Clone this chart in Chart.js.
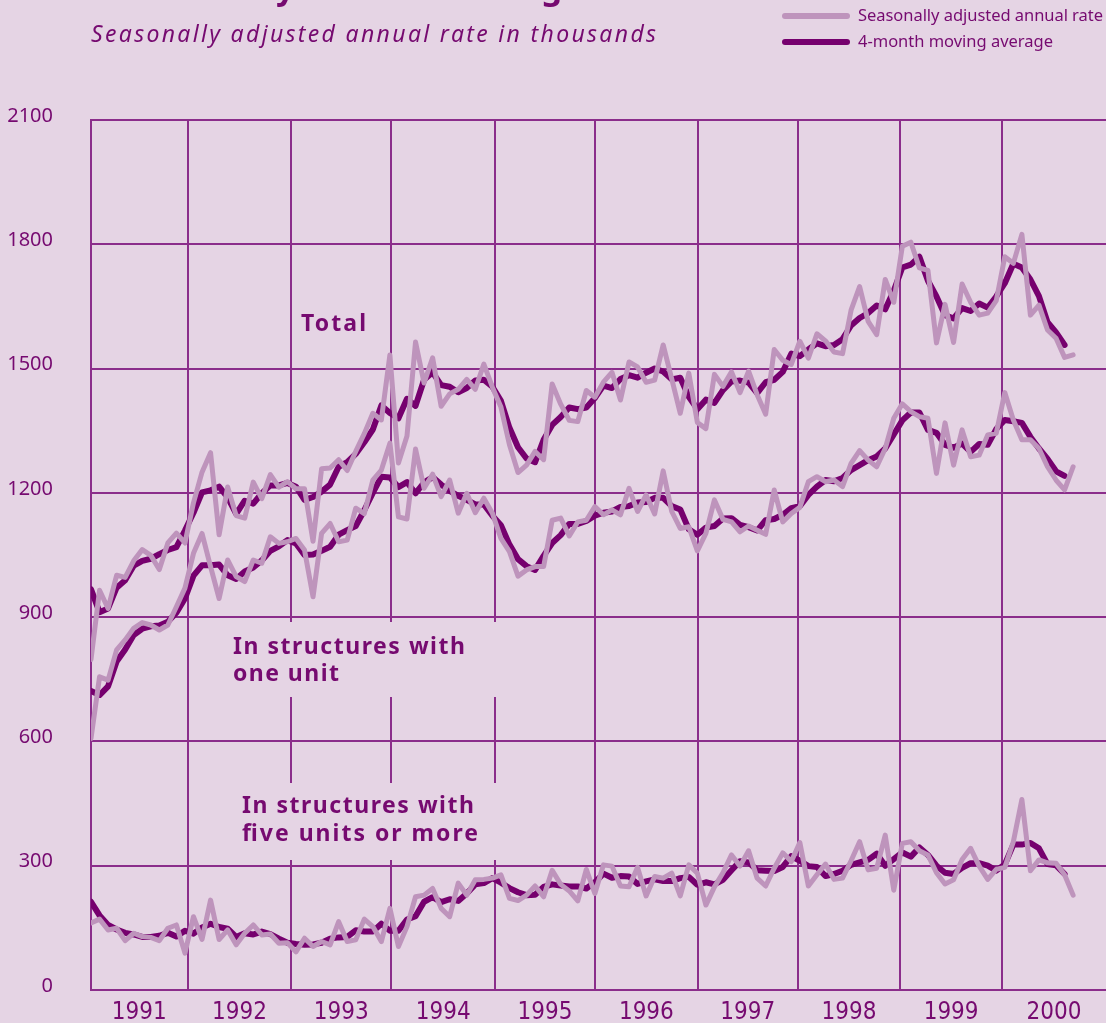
<!DOCTYPE html>
<html>
<head>
<meta charset="utf-8">
<script src="https://cdn.jsdelivr.net/npm/chart.js@4.4.1/dist/chart.umd.min.js"></script>
<style>
  html, body { margin: 0; padding: 0; background: #E5D4E4; }
  #wrap { position: relative; width: 1106px; height: 1023px; overflow: hidden; background: #E5D4E4; }
  #c { position: absolute; left: 0; top: 0; }
  #ov { position: absolute; left: 0; top: 0; pointer-events: none; overflow: hidden; }
</style>
</head>
<body>
<div id="wrap">
  <canvas id="c" width="1106" height="1023"></canvas>
  <svg id="ov" width="1106" height="1023" xmlns="http://www.w3.org/2000/svg">
    <!-- covers that interrupt the vertical grid lines behind the series labels -->
    <rect x="222" y="622" width="288" height="75" fill="#E5D4E4"/>
    <rect x="228" y="783" width="282" height="77" fill="#E5D4E4"/>

    <text x="144" y="-1" font-family="Noto Sans" font-weight="bold" font-size="33" fill="#760A70" textLength="527" lengthAdjust="spacing">Privately owned housing starts</text>
    <text x="91" y="41.5" font-family="Noto Sans" font-style="italic" font-size="23" fill="#760A70" textLength="565" lengthAdjust="spacing">Seasonally adjusted annual rate in thousands</text>

    <line x1="785" y1="16" x2="847" y2="16" stroke="#BE94BC" stroke-width="6" stroke-linecap="round"/>
    <line x1="785" y1="42" x2="847" y2="42" stroke="#76006E" stroke-width="6" stroke-linecap="round"/>
    <text x="858" y="21" font-family="Noto Sans" font-size="16.5" fill="#760A70" textLength="245" lengthAdjust="spacing">Seasonally adjusted annual rate</text>
    <text x="858" y="47" font-family="Noto Sans" font-size="16.5" fill="#760A70" textLength="195" lengthAdjust="spacing">4-month moving average</text>

    <text x="301" y="331" font-family="Noto Sans" font-weight="bold" font-size="23" fill="#760A70" textLength="65" lengthAdjust="spacing">Total</text>
    <text x="233" y="654" font-family="Noto Sans" font-weight="bold" font-size="23" fill="#760A70" textLength="232" lengthAdjust="spacing">In structures with</text>
    <text x="233" y="680.5" font-family="Noto Sans" font-weight="bold" font-size="23" fill="#760A70" textLength="106" lengthAdjust="spacing">one unit</text>
    <text x="242" y="812.5" font-family="Noto Sans" font-weight="bold" font-size="23" fill="#760A70" textLength="232" lengthAdjust="spacing">In structures with</text>
    <text x="242" y="840.5" font-family="Noto Sans" font-weight="bold" font-size="23" fill="#760A70" textLength="236" lengthAdjust="spacing">five units or more</text>
  </svg>
</div>
<script>
// ---------------- data (thousands of units, monthly from Jan 1991) ----------------
const yearLabels = ['1991','1992','1993','1994','1995','1996','1997','1998','1999','2000'];
// month positions (0 = Jan 1991) where the yearly grid lines sit in the picture
const yearGridMonths = [11.32, 23.45, 35.16, 47.31, 59.02, 71.04, 82.75, 94.76, 106.67];
const xAxisEndMonth = 118.85;
const yTicks = [0, 300, 600, 900, 1200, 1500, 1800, 2100];

const totalRate = [
  798,965,921,1001,996,1036,1063,1049,1015,1079,1103,1079,
  1176,1250,1297,1099,1214,1145,1139,1226,1186,1244,1214,1227,
  1210,1210,1083,1258,1260,1280,1254,1300,1343,1392,1376,1533,
  1272,1337,1564,1465,1526,1409,1439,1450,1474,1450,1511,1455,
  1407,1316,1249,1267,1300,1280,1463,1414,1375,1372,1447,1431,
  1467,1491,1424,1516,1504,1467,1472,1557,1475,1392,1489,1370,
  1355,1486,1457,1492,1442,1494,1437,1390,1546,1520,1510,1566,
  1525,1584,1567,1540,1536,1641,1698,1614,1582,1715,1660,1795,
  1805,1743,1737,1562,1655,1563,1704,1660,1629,1634,1664,1770,
  1754,1824,1629,1653,1593,1573,1527,1533
];
const totalAvg = [
  967,912,921,971,989,1024,1036,1041,1052,1062,1069,1109,
  1152,1201,1206,1215,1189,1149,1181,1174,1199,1218,1218,1224,
  1215,1183,1190,1203,1220,1263,1274,1294,1322,1353,1411,1393,
  1380,1427,1410,1473,1491,1460,1456,1443,1453,1471,1473,1456,
  1422,1357,1310,1283,1274,1328,1364,1383,1406,1402,1406,1429,
  1459,1453,1475,1484,1478,1490,1500,1493,1474,1478,1432,1402,
  1425,1417,1448,1469,1471,1466,1441,1467,1473,1492,1536,1530,
  1546,1561,1554,1557,1571,1604,1622,1634,1652,1643,1688,1744,
  1751,1770,1712,1674,1629,1621,1646,1639,1657,1647,1674,1706,
  1753,1744,1715,1675,1612,1587,1557
];
const oneUnitRate = [
  607,756,748,821,845,873,887,881,869,881,925,970,
  1054,1102,1022,945,1038,998,986,1038,1030,1094,1078,1082,
  1090,1062,949,1102,1126,1082,1086,1163,1150,1231,1255,1320,
  1142,1137,1306,1211,1245,1191,1231,1151,1199,1152,1187,1151,
  1090,1058,999,1014,1022,1022,1134,1139,1096,1130,1134,1167,
  1147,1159,1147,1211,1155,1195,1149,1253,1155,1114,1118,1060,
  1102,1183,1136,1130,1106,1120,1110,1100,1207,1130,1150,1165,
  1227,1239,1227,1231,1215,1271,1302,1279,1263,1307,1380,1415,
  1396,1384,1380,1247,1369,1267,1352,1287,1291,1340,1344,1442,
  1376,1328,1328,1307,1263,1231,1207,1263
];
const oneUnitAvg = [
  722,712,733,793,822,857,872,878,880,889,911,945,
  1000,1025,1025,1027,1001,992,1010,1020,1037,1060,1071,1086,
  1078,1050,1051,1060,1070,1099,1110,1120,1158,1200,1239,1237,
  1214,1226,1199,1225,1238,1220,1205,1193,1183,1172,1172,1145,
  1122,1075,1040,1023,1014,1048,1079,1098,1125,1125,1132,1145,
  1152,1155,1166,1168,1177,1178,1188,1188,1168,1160,1112,1099,
  1116,1120,1138,1139,1123,1117,1109,1134,1137,1147,1163,1168,
  1195,1215,1231,1228,1236,1255,1267,1279,1288,1307,1341,1375,
  1394,1394,1352,1345,1316,1309,1319,1299,1318,1316,1354,1376,
  1373,1369,1335,1307,1282,1252,1241
];
const fivePlusRate = [
  162,171,145,149,119,137,129,127,119,149,157,89,
  177,122,217,122,145,109,137,157,133,135,113,114,
  92,125,105,117,109,165,117,121,171,153,117,197,
  105,153,225,229,245,197,177,258,229,266,267,270,
  278,221,216,229,251,225,289,255,239,215,291,233,
  302,299,251,249,296,227,274,270,282,227,302,282,
  205,249,283,326,299,336,270,251,294,331,310,356,
  251,278,304,267,270,312,358,290,294,374,241,354,
  358,336,326,283,256,266,315,342,299,267,291,296,
  358,460,288,314,307,306,278,229
];
const fivePlusAvg = [
  213,180,157,146,138,134,128,128,131,138,129,143,
  136,151,160,152,148,128,137,134,141,135,124,114,
  111,109,110,114,124,127,128,144,141,141,160,143,
  143,170,178,213,224,212,219,215,233,255,258,270,
  259,246,236,229,230,249,255,252,250,250,245,260,
  281,271,275,274,256,262,267,263,263,270,273,254,
  260,255,266,289,311,308,289,288,287,297,323,312,
  299,297,275,280,288,302,308,314,329,300,316,332,
  322,344,326,300,283,280,295,306,306,300,288,303,
  351,351,355,342,304,301,280
];

// ---------------- styling ----------------
const GRID = '#8B2D8B';
const DARK = '#76006E';
const LIGHT = '#BE94BC';
const TEXT = '#760A70';

const toPoints = arr => arr.map((v, i) => ({ x: i, y: v }));
const bounds = [0, ...yearGridMonths, xAxisEndMonth];
const labelMonths = yearLabels.map((_, i) => (bounds[i] + bounds[i + 1]) / 2);
const isGrid = v => yearGridMonths.some(g => Math.abs(g - v) < 1e-6);
const labelFor = v => {
  const i = labelMonths.findIndex(m => Math.abs(m - v) < 1e-6);
  return i >= 0 ? yearLabels[i] : '';
};

const lightDs = (data) => ({ data: toPoints(data), borderColor: LIGHT, borderWidth: 5, order: 0 });
const darkDs  = (data) => ({ data: toPoints(data), borderColor: DARK, borderWidth: 6, order: 1 });

new Chart(document.getElementById('c'), {
  type: 'line',
  data: {
    datasets: [
      lightDs(totalRate), lightDs(oneUnitRate), lightDs(fivePlusRate),
      darkDs(totalAvg), darkDs(oneUnitAvg), darkDs(fivePlusAvg)
    ]
  },
  options: {
    responsive: false,
    animation: false,
    devicePixelRatio: 1,
    layout: { padding: { top: 120, right: 0, bottom: 0, left: 0 } },
    plugins: { legend: { display: false }, tooltip: { enabled: false }, title: { display: false } },
    elements: {
      point: { radius: 0, hoverRadius: 0 },
      line: { tension: 0, borderCapStyle: 'round', borderJoinStyle: 'round', fill: false }
    },
    scales: {
      x: {
        type: 'linear',
        min: 0,
        max: xAxisEndMonth,
        afterBuildTicks: (s) => {
          s.ticks = [...yearGridMonths, ...labelMonths].sort((a, b) => a - b).map(v => ({ value: v }));
        },
        afterFit: (s) => { s.height = 33; s.paddingLeft = 0; s.paddingRight = 0; },
        grid: {
          color: (ctx) => (ctx.tick && isGrid(ctx.tick.value)) ? GRID : 'rgba(0,0,0,0)',
          lineWidth: 2,
          drawTicks: false
        },
        border: { display: false },
        ticks: {
          autoSkip: false,
          maxRotation: 0,
          minRotation: 0,
          padding: 8,
          color: TEXT,
          font: { family: "'DejaVu Sans Condensed', 'Liberation Sans Narrow', sans-serif", size: 24 },
          callback: (v) => labelFor(v)
        }
      },
      y: {
        min: 0,
        max: 2100,
        afterBuildTicks: (s) => { s.ticks = yTicks.map(v => ({ value: v })); },
        afterFit: (s) => { s.width = 91; s.paddingTop = 0; s.paddingBottom = 0; },
        grid: { color: GRID, lineWidth: 2, drawTicks: false },
        border: { display: true, color: GRID, width: 2 },
        ticks: {
          padding: 38,
          labelOffset: -4,
          color: TEXT,
          font: { family: "'Noto Sans', sans-serif", size: 20 },
          callback: (v) => String(v)
        }
      }
    }
  }
});
</script>
</body>
</html>
